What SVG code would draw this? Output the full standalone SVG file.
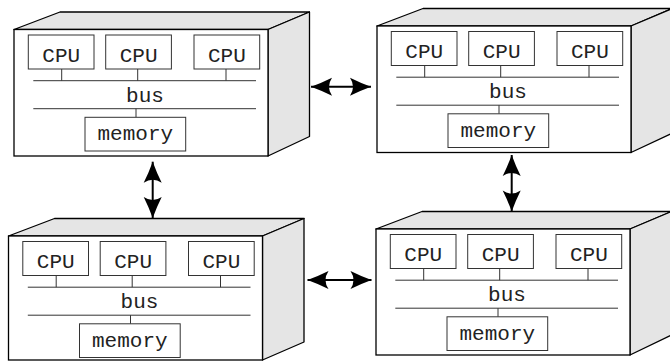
<svg xmlns="http://www.w3.org/2000/svg" width="670" height="361" viewBox="0 0 670 361">
<style>
.face{fill:#e5e5e5;stroke:#000;stroke-width:1.3;stroke-linejoin:round}
.front{fill:#fff;stroke:#000;stroke-width:1.3}
.box{fill:#fff;stroke:#333;stroke-width:1}
.ln{stroke:#333;stroke-width:1;fill:none}
.t{font-family:"Liberation Mono","Courier New",monospace;font-size:21px;fill:#222;text-anchor:middle}
.arr{stroke:#000;stroke-width:2;fill:none;marker-start:url(#ah);marker-end:url(#ah)}
</style>
<defs>
<marker id="ah" markerUnits="userSpaceOnUse" markerWidth="24" markerHeight="22" viewBox="-1 -11 24 22" refX="21" refY="0" orient="auto-start-reverse">
<path d="M21,0 Q10,-4 0,-9 Q6,0 0,9 Q10,4 21,0 Z" fill="#000"/>
</marker>
</defs>
<g id="node-top-left" transform="translate(14,29.5)">
<polygon class="face" points="0,0 46,-17.5 295.5,-17.5 254,0"/>
<polygon class="face" points="254,0 295.5,-17.5 295.5,107 254,126.5"/>
<rect class="front" x="0" y="0" width="254" height="126.5"/>
<rect class="box" x="14.3" y="5.5" width="65.7" height="34"/>
<rect class="box" x="91.7" y="5.5" width="65.7" height="34"/>
<rect class="box" x="180" y="5.5" width="65.7" height="34"/>
<text class="t" x="47.2" y="32.2">CPU</text>
<text class="t" x="124.6" y="32.2">CPU</text>
<text class="t" x="212.9" y="32.2">CPU</text>
<path class="ln" d="M47.7,39.5V51.2M123.7,39.5V51.2M212,39.5V51.2M19.3,51.2H242M19.3,79.2H242M122,79.2V87.8"/>
<text class="t" x="131" y="72.2">bus</text>
<rect class="box" x="71" y="87.8" width="100.7" height="33.7"/>
<text class="t" x="121.3" y="110.5">memory</text>
</g>
<g id="node-top-right" transform="translate(377,26)">
<polygon class="face" points="0,0 46,-17.5 295.5,-17.5 254,0"/>
<polygon class="face" points="254,0 295.5,-17.5 295.5,107 254,126.5"/>
<rect class="front" x="0" y="0" width="254" height="126.5"/>
<rect class="box" x="14.3" y="5.5" width="65.7" height="34"/>
<rect class="box" x="91.7" y="5.5" width="65.7" height="34"/>
<rect class="box" x="180" y="5.5" width="65.7" height="34"/>
<text class="t" x="47.2" y="32.2">CPU</text>
<text class="t" x="124.6" y="32.2">CPU</text>
<text class="t" x="212.9" y="32.2">CPU</text>
<path class="ln" d="M47.7,39.5V51.2M123.7,39.5V51.2M212,39.5V51.2M19.3,51.2H242M19.3,79.2H242M122,79.2V87.8"/>
<text class="t" x="131" y="72.2">bus</text>
<rect class="box" x="71" y="87.8" width="100.7" height="33.7"/>
<text class="t" x="121.3" y="110.5">memory</text>
</g>
<g id="node-bottom-left" transform="translate(8.5,236)">
<polygon class="face" points="0,0 46,-17.5 295.5,-17.5 254,0"/>
<polygon class="face" points="254,0 295.5,-17.5 295.5,106 254,124"/>
<rect class="front" x="0" y="0" width="254" height="124"/>
<rect class="box" x="14.3" y="5.5" width="65.7" height="34"/>
<rect class="box" x="91.7" y="5.5" width="65.7" height="34"/>
<rect class="box" x="180" y="5.5" width="65.7" height="34"/>
<text class="t" x="47.2" y="32.2">CPU</text>
<text class="t" x="124.6" y="32.2">CPU</text>
<text class="t" x="212.9" y="32.2">CPU</text>
<path class="ln" d="M47.7,39.5V51.2M123.7,39.5V51.2M212,39.5V51.2M19.3,51.2H242M19.3,79.2H242M122,79.2V87.8"/>
<text class="t" x="131" y="72.2">bus</text>
<rect class="box" x="71" y="87.8" width="100.7" height="33.7"/>
<text class="t" x="121.3" y="110.5">memory</text>
</g>
<g id="node-bottom-right" transform="translate(376,229)">
<polygon class="face" points="0,0 46,-17.5 295.5,-17.5 254,0"/>
<polygon class="face" points="254,0 295.5,-17.5 295.5,106 254,126"/>
<rect class="front" x="0" y="0" width="254" height="126"/>
<rect class="box" x="14.3" y="5.5" width="65.7" height="34"/>
<rect class="box" x="91.7" y="5.5" width="65.7" height="34"/>
<rect class="box" x="180" y="5.5" width="65.7" height="34"/>
<text class="t" x="47.2" y="32.2">CPU</text>
<text class="t" x="124.6" y="32.2">CPU</text>
<text class="t" x="212.9" y="32.2">CPU</text>
<path class="ln" d="M47.7,39.5V51.2M123.7,39.5V51.2M212,39.5V51.2M19.3,51.2H242M19.3,79.2H242M122,79.2V87.8"/>
<text class="t" x="131" y="72.2">bus</text>
<rect class="box" x="71" y="87.8" width="100.7" height="33.7"/>
<text class="t" x="121.3" y="110.5">memory</text>
</g>
<g id="connectors">
<line class="arr" x1="311" y1="86.7" x2="371" y2="86.7"/>
<line class="arr" x1="307.5" y1="280" x2="371.5" y2="280"/>
<line class="arr" x1="152.7" y1="161.7" x2="152.7" y2="218"/>
<line class="arr" x1="511.7" y1="155" x2="511.7" y2="211.5"/>
</g>
</svg>
